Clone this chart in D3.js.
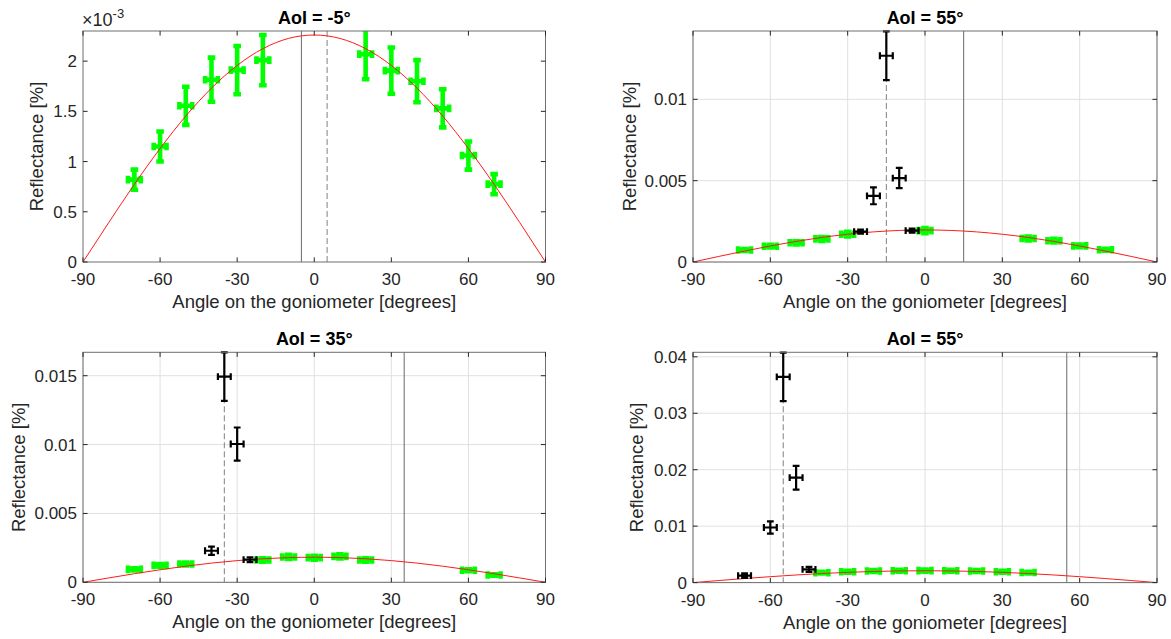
<!DOCTYPE html>
<html><head><meta charset="utf-8">
<script src="https://cdn.jsdelivr.net/npm/d3@7"></script>
<style>body{margin:0;background:#fff}text{font-family:"Liberation Sans",Arial,Helvetica,sans-serif;fill:#262626}</style>
</head><body><svg id="c" width="1171" height="639"></svg>
<script>
// ---------- data ----------
const xTicks = [-90, -60, -30, 0, 30, 60, 90];
const fitAngles = [-90,-80,-70,-60,-50,-40,-30,-20,-10,0,10,20,30,40,50,60,70,80,90];
const titles = ["AoI = -5°", "AoI = 55°", "AoI = 35°", "AoI = 55°"];
const solidAt = [-5, 15, 35, 55];
const dashedAt = [5, -15, -35, -55];
const yMaxes = [0.0023, 0.0142, 0.0167, 0.0408];
const xLabel = "Angle on the goniometer [degrees]";
const yLabel = "Reflectance [%]";

const yTicksTL = [0, 0.0005, 0.001, 0.0015, 0.002];
const yTickLabelsTL = ["0", "0.5", "1", "1.5", "2"];
const yTicksTR = [0, 0.005, 0.01];
const yTickLabelsTR = ["0", "0.005", "0.01"];
const yTicksBL = [0, 0.005, 0.01, 0.015];
const yTickLabelsBL = ["0", "0.005", "0.01", "0.015"];
const yTicksBR = [0, 0.01, 0.02, 0.03, 0.04];
const yTickLabelsBR = ["0", "0.01", "0.02", "0.03", "0.04"];

// fitted curves (read every 10 degrees)
const fitTL = [0,0.000392,0.000773,0.00113,0.001453,0.001731,0.001957,0.002124,0.002226,0.00226,0.002226,0.002124,0.001957,0.001731,0.001453,0.00113,0.000773,0.000392,0];
const fitTR = [0,0.000342,0.000674,0.000985,0.001266,0.001509,0.001706,0.001851,0.00194,0.00197,0.00194,0.001851,0.001706,0.001509,0.001266,0.000985,0.000674,0.000342,0];
const fitBL = [0,0.000316,0.000622,0.00091,0.00117,0.001394,0.001576,0.00171,0.001792,0.00182,0.001792,0.00171,0.001576,0.001394,0.00117,0.00091,0.000622,0.000316,0];
const fitBR = [0,0.000365,0.000718,0.00105,0.00135,0.001609,0.001819,0.001973,0.002068,0.0021,0.002068,0.001973,0.001819,0.001609,0.00135,0.00105,0.000718,0.000365,0];

// green measurements
const greenXTL = [-70,-60,-50,-40,-30,-20,20,30,40,50,60,70];
const greenYTL = [0.00082,0.00115,0.001555,0.001815,0.00191,0.00201,0.00207,0.001905,0.0018,0.00153,0.00106,0.000775];
const greenErrTL = [0.0001,0.00015,0.00019,0.00022,0.00024,0.00025,0.00025,0.00023,0.00021,0.00019,0.00014,0.0001];
const greenXTR = [-70,-60,-50,-40,-30,0,40,50,60,70];
const greenYTR = [0.00074,0.00097,0.00118,0.00142,0.00171,0.00193,0.00144,0.00131,0.00099,0.00075];
const greenErrTR = [0.00006,0.00008,0.0001,0.00012,0.00014,0.00016,0.00012,0.00011,0.00008,0.00006];
const greenXBL = [-70,-60,-50,-20,-10,0,10,20,60,70];
const greenYBL = [0.00094,0.00123,0.00133,0.00162,0.00184,0.00179,0.00188,0.00162,0.00087,0.00053];
const greenErrBL = [0.00008,0.0001,0.00011,0.00013,0.00015,0.00014,0.00015,0.00013,0.00007,0.00005];
const greenXBR = [-40,-30,-20,-10,0,10,20,30,40];
const greenYBR = [0.00175,0.00192,0.00205,0.0021,0.00212,0.0021,0.00205,0.00192,0.00178];
const greenErrBR = [0.00015,0.00016,0.00017,0.00018,0.00018,0.00018,0.00017,0.00016,0.00015];
const greenXErr = 2.5;

// black measurements
const blackXTR = [-25,-20,-15,-10,-5];
const blackYTR = [0.00187,0.00407,0.01268,0.00516,0.00193];
const blackErrTR = [0.00012,0.00052,0.0015,0.00062,0.00012];
const blackXBL = [-40,-35,-30,-25];
const blackYBL = [0.00229,0.01494,0.01004,0.00164];
const blackErrBL = [0.0003,0.00176,0.0012,0.00018];
const blackXBR = [-70,-60,-55,-50,-45];
const blackYBR = [0.00124,0.00976,0.03646,0.01858,0.00235];
const blackErrBR = [0.0004,0.0011,0.0043,0.0021,0.00045];
const blackXErr = 2.5;

// ---------- layout ----------
const svg = d3.select("#c");
const panels = [
  {box:[83,31,545.5,262], yTicks:yTicksTL, yLab:yTickLabelsTL, fit:fitTL, gx:greenXTL, gy:greenYTL, ge:greenErrTL, bx:null, grid:false, exp:true, ylabX:37},
  {box:[693,31,1157,262], yTicks:yTicksTR, yLab:yTickLabelsTR, fit:fitTR, gx:greenXTR, gy:greenYTR, ge:greenErrTR, bx:blackXTR, by:blackYTR, be:blackErrTR, grid:true, exp:false, ylabX:630},
  {box:[83,352.3,545.5,582.3], yTicks:yTicksBL, yLab:yTickLabelsBL, fit:fitBL, gx:greenXBL, gy:greenYBL, ge:greenErrBL, bx:blackXBL, by:blackYBL, be:blackErrBL, grid:true, exp:false, ylabX:19},
  {box:[693,352.3,1157,582.6], yTicks:yTicksBR, yLab:yTickLabelsBR, fit:fitBR, gx:greenXBR, gy:greenYBR, ge:greenErrBR, bx:blackXBR, by:blackYBR, be:blackErrBR, grid:true, exp:false, ylabX:637}
];

const axisColor = "#262626";
const tickLen = 4.6;

function drawErr(g, x, y, xs, ys, ye, xe, color, lw, cap) {
  const sel = g.append("g").attr("stroke", color).attr("stroke-width", lw).attr("fill", "none");
  xs.forEach((xv, i) => {
    const cx = x(xv), cy = y(ys[i]);
    const yt = y(ys[i] + ye[i]), yb = y(ys[i] - ye[i]);
    const xl = x(xv - xe), xr = x(xv + xe);
    const p = d3.path();
    p.moveTo(cx, yt); p.lineTo(cx, yb);
    p.moveTo(cx - cap, yt); p.lineTo(cx + cap, yt);
    p.moveTo(cx - cap, yb); p.lineTo(cx + cap, yb);
    p.moveTo(xl, cy); p.lineTo(xr, cy);
    p.moveTo(xl, cy - cap); p.lineTo(xl, cy + cap);
    p.moveTo(xr, cy - cap); p.lineTo(xr, cy + cap);
    sel.append("path").attr("d", p.toString());
  });
}

panels.forEach((P, k) => {
  const [x0, y0, x1, y1] = P.box;
  const x = d3.scaleLinear().domain([-90, 90]).range([x0, x1]);
  const y = d3.scaleLinear().domain([0, yMaxes[k]]).range([y1, y0]);
  const g = svg.append("g");
  const clipId = "clip" + k;
  svg.append("clipPath").attr("id", clipId).append("rect")
    .attr("x", x0).attr("y", y0).attr("width", x1 - x0).attr("height", y1 - y0);

  // grid
  if (P.grid) {
    const gg = g.append("g").attr("stroke", "#e0e0e0").attr("stroke-width", 1);
    xTicks.forEach(t => gg.append("line").attr("x1", x(t)).attr("x2", x(t)).attr("y1", y0).attr("y2", y1));
    P.yTicks.forEach(t => gg.append("line").attr("x1", x0).attr("x2", x1).attr("y1", y(t)).attr("y2", y(t)));
  }

  const plot = g.append("g").attr("clip-path", `url(#${clipId})`);
  // vertical reference lines
  plot.append("line").attr("x1", x(solidAt[k])).attr("x2", x(solidAt[k])).attr("y1", y0).attr("y2", y1)
    .attr("stroke", "#6a6a6a").attr("stroke-width", 1);
  plot.append("line").attr("x1", x(dashedAt[k])).attr("x2", x(dashedAt[k])).attr("y1", y0).attr("y2", y1)
    .attr("stroke", "#808080").attr("stroke-width", 1).attr("stroke-dasharray", "6,3");

  // green error bars
  drawErr(plot, x, y, P.gx, P.gy, P.ge, greenXErr, "#00ff00", 4.6, 3.8);
  // red fit curve
  const line = d3.line().x((d, i) => x(fitAngles[i])).y(d => y(d)).curve(d3.curveNatural);
  plot.append("path").attr("d", line(P.fit)).attr("fill", "none").attr("stroke", "#ff1a1a").attr("stroke-width", 1);
  // black error bars
  if (P.bx) drawErr(g, x, y, P.bx, P.by, P.be, blackXErr, "#000", 2.2, 3.4);

  // axes box
  g.append("rect").attr("x", x0).attr("y", y0).attr("width", x1 - x0).attr("height", y1 - y0)
    .attr("fill", "none").attr("stroke", "#6f6f6f").attr("stroke-width", 1);
  const tk = g.append("g").attr("stroke", axisColor).attr("stroke-width", 1);
  xTicks.forEach(t => {
    tk.append("line").attr("x1", x(t)).attr("x2", x(t)).attr("y1", y1).attr("y2", y1 - tickLen);
    tk.append("line").attr("x1", x(t)).attr("x2", x(t)).attr("y1", y0).attr("y2", y0 + tickLen);
  });
  P.yTicks.forEach(t => {
    tk.append("line").attr("x1", x0).attr("x2", x0 + tickLen).attr("y1", y(t)).attr("y2", y(t));
    tk.append("line").attr("x1", x1).attr("x2", x1 - tickLen).attr("y1", y(t)).attr("y2", y(t));
  });

  // tick labels
  xTicks.forEach(t => g.append("text").attr("x", x(t)).attr("y", y1 + 23).attr("text-anchor", "middle")
    .attr("font-size", 17).text(t));
  P.yTicks.forEach((t, i) => g.append("text").attr("x", x0 - 6).attr("y", y(t) + 6).attr("text-anchor", "end")
    .attr("font-size", 17).text(P.yLab[i]));

  // exponent
  if (P.exp) {
    const e = g.append("text").attr("x", x0 - 1).attr("y", y0 - 5).attr("font-size", 18);
    e.append("tspan").text("×10");
    e.append("tspan").attr("font-size", 13).attr("dy", -8).text("-3");
  }

  // title
  g.append("text").attr("x", (x0 + x1) / 2).attr("y", y0 - 7).attr("text-anchor", "middle")
    .attr("font-size", 18).attr("font-weight", "bold").style("fill", "#000").text(titles[k]);
  // x label
  g.append("text").attr("x", (x0 + x1) / 2).attr("y", y1 + 46).attr("text-anchor", "middle")
    .attr("font-size", 18.5).text(xLabel);
  // y label
  g.append("text").attr("transform", `translate(${P.ylabX},${(y0 + y1) / 2}) rotate(-90)`)
    .attr("text-anchor", "middle").attr("dy", "0.35em").attr("font-size", 18.5).text(yLabel);
});
</script></body></html>
